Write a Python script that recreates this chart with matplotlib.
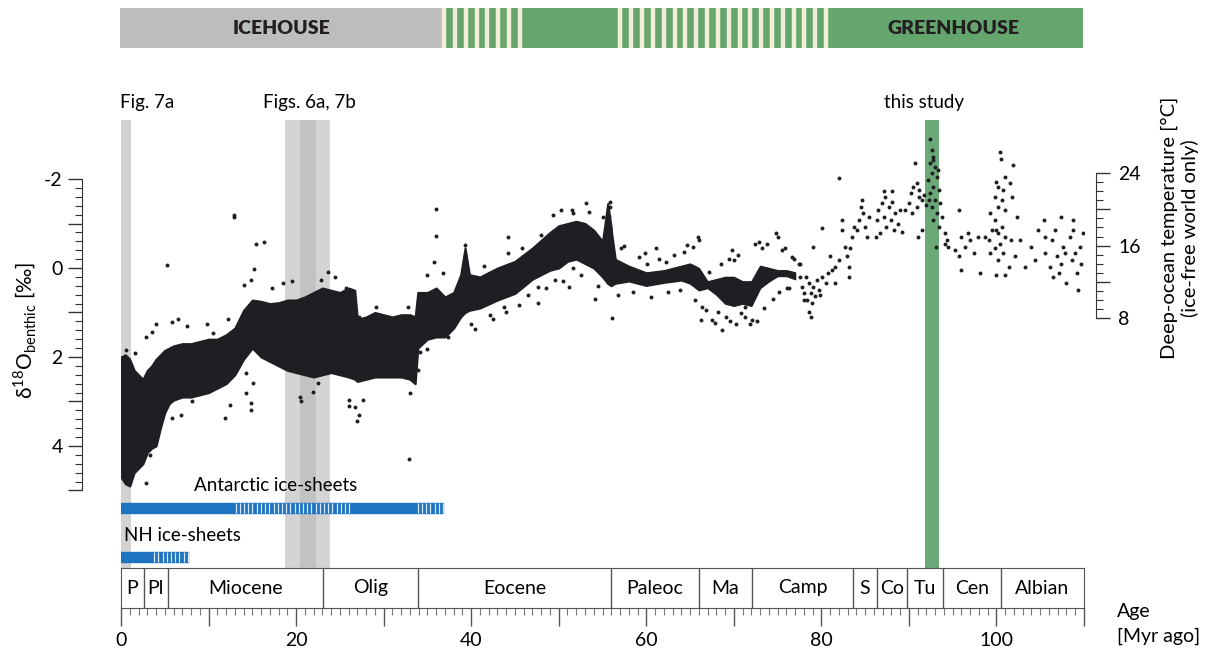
import numpy as np
import matplotlib
matplotlib.use("Agg")
import matplotlib.pyplot as plt
from matplotlib.ticker import MultipleLocator, FuncFormatter

plt.rcParams['font.family'] = ['Lato', 'DejaVu Sans']
plt.rcParams['mathtext.fontset'] = 'custom'
plt.rcParams['mathtext.rm'] = 'Lato'

# dense part of the benthic d18O record: age [Myr], light edge, heavy edge [permil]
core_age = [0, 0.5, 1.0, 1.5, 2.0, 2.5, 3.0, 3.5, 4.0, 4.5, 5.0, 5.5, 6, 7, 8, 9, 10, 11, 12, 13,
            14, 15, 16, 17, 18, 19, 20, 21, 22, 23, 24, 25, 26, 26.7, 27, 28, 29, 30, 31, 32, 33,
            33.6, 33.9, 35, 36, 37, 38, 38.8, 39.3, 39.8, 41, 43, 45, 47, 49, 50, 51, 52, 53, 54,
            55, 55.6, 56]
core_top = [2.0, 1.95, 2.05, 2.3, 2.4, 2.5, 2.3, 2.2, 2.05, 1.95, 1.85, 1.8, 1.75, 1.7, 1.7, 1.65,
            1.6, 1.6, 1.5, 1.35, 0.95, 0.72, 0.75, 0.8, 0.78, 0.72, 0.72, 0.65, 0.55, 0.45, 0.5, 0.55,
            0.45, 0.5, 1.15, 1.1, 1.0, 1.05, 1.1, 1.05, 1.05, 1.1, 0.55, 0.55, 0.45, 0.65, 0.55, 0.15,
            -0.45, 0.15, 0.2, 0.0, -0.15, -0.45, -0.8, -0.95, -1.0, -1.05, -1.0, -0.85, -0.6, -1.45,
            -0.9]
core_bot = [4.7, 4.85, 4.9, 4.6, 4.5, 4.4, 4.15, 4.05, 4.0, 3.6, 3.25, 3.05, 2.97, 2.9, 2.9, 2.85,
            2.8, 2.7, 2.6, 2.4, 2.05, 1.8, 2.0, 2.1, 2.2, 2.3, 2.35, 2.4, 2.45, 2.4, 2.35, 2.4, 2.45,
            2.5, 2.55, 2.5, 2.45, 2.45, 2.45, 2.45, 2.5, 2.6, 1.8, 1.6, 1.55, 1.55, 1.35, 1.1, 1.0,
            0.95, 0.9, 0.72, 0.57, 0.25, 0.05, 0.0, -0.15, -0.2, -0.1, 0.0, 0.2, 0.35, 0.4]

# looser core, Paleocene to Campanian
loose_age = [56, 56.5, 58, 60, 62, 64, 65, 66, 67, 68, 69, 70, 71, 72, 73, 74, 75, 76, 77]
loose_top = [-0.9, -0.2, -0.05, 0.1, 0.05, -0.05, -0.1, 0.0, 0.3, 0.25, 0.2, 0.2, 0.3, 0.3, -0.05,
             0.0, 0.05, 0.05, 0.1]
loose_bot = [0.4, 0.35, 0.3, 0.4, 0.33, 0.28, 0.35, 0.5, 0.45, 0.6, 0.8, 0.85, 0.8, 0.85, 0.45, 0.3,
             0.18, 0.18, 0.25]

# scattered points, Cenozoic
ceno_age = [12.9, 12.95, 15.4, 16.3, 5.2, 15.2, 14.9, 14.1, 18.5, 23.6, 22.9, 12.2, 6.5, 5.8, 4.0,
            2.9, 3.5, 9.8, 11.9, 5.8, 6.9, 2.7, 3.3, 2.9, 14.9, 14.9, 12.4, 14.3, 15.1, 14.3, 20.4,
            20.6, 21.9, 22.5, 8.1, 27.0, 32.9, 26.7, 26.0, 36.0, 36.0, 35.8, 35.0, 36.8, 39.3, 39.3,
            44.2, 44.2, 40.4, 42.1, 43.8, 45.5, 47.6, 47.6, 49.6, 50.3, 49.3, 27.2, 26.1, 27.6, 33.0,
            33.9, 34.1, 34.9, 37.3, 36.4, 29.1, 32.8, 27.2, 25.7, 40.0, 41.5, 42.5, 44.0, 45.8, 46.5,
            48.0, 48.5, 50.5, 51.5, 52.5, 53.5, 54.5, 55.0, 54.2, 55.8, 55.8, 55.7, 56.1, 53.1, 51.6,
            51.2, 51.6, 19.5, 24.5, 17.2, 10.5, 7.5, 1.6, 0.6]
ceno_d18o = [-1.15, -1.2, -0.55, -0.59, -0.07, 0.03, 0.27, 0.38, 0.34, 0.08, 0.27, 1.15, 1.15, 1.21,
             1.26, 1.54, 1.43, 1.26, 3.38, 3.38, 3.3, 4.2, 4.2, 4.84, 3.04, 3.19, 3.08, 2.82, 2.59,
             2.37, 2.89, 3.0, 2.78, 2.59, 3.0, 3.44, 4.3, 3.12, 2.97, -1.32, -0.72, -0.14, 0.16, 0.12,
             -0.52, -0.26, -0.7, -0.33, 1.36, 1.06, 0.87, 0.83, 0.79, 0.42, 0.27, -1.3, -1.19, 3.3,
             3.11, 2.97, 2.82, 2.29, 1.88, 1.81, 1.54, 1.47, 0.87, 0.87, 1.09, 0.46, 1.25, -0.05, 1.15,
             1.0, -0.45, 0.6, -0.75, 0.45, 0.3, -1.3, 0.15, -1.25, 0.4, -1.15, 0.7, -1.49, -1.38,
             -1.15, 1.13, -1.45, -1.23, 0.42, 0.01, 0.3, 0.2, 0.45, 1.45, 1.3, 1.9, 1.85]

# scattered points, Paleocene to Campanian
kt_age = [57.1, 59.9, 61.1, 60.1, 62.2, 64.7, 65.3, 65.95, 66.0, 66.4, 66.2, 65.6, 67.5, 67.9, 68.7,
          69.1, 69.8, 70.0, 71.3, 72.1, 72.9, 73.2, 74.8, 75.0, 75.5, 76.7, 77.4, 76.1, 78.0, 71.3,
          70.8, 56.8, 57.5, 58.5, 59.2, 60.5, 61.5, 62.5, 63.2, 63.8, 64.3, 66.8, 67.2, 68.2, 68.5,
          69.5, 69.6, 70.5, 70.2, 71.8, 72.4, 72.6, 73.5, 73.8, 74.5, 75.2, 75.8, 76.3, 76.9]
kt_d18o = [-0.44, -0.33, -0.44, -0.1, -0.14, -0.52, -0.48, -0.7, -0.63, 0.87, 1.17, 0.72, 1.17, 1.24,
           1.39, 1.09, -0.4, -0.18, 1.09, 1.17, -0.59, -0.44, -0.78, -0.7, -0.4, -0.25, -0.1, 0.46,
           0.72, 0.87, 1.02, 0.6, -0.5, 0.55, -0.25, 0.65, -0.2, 0.55, -0.3, 0.5, -0.35, 0.95, 0.1,
           1.0, -0.1, -0.2, 1.2, -0.3, 1.25, 1.25, -0.55, 1.2, 0.9, -0.55, 0.7, 0.55, -0.45, 0.45,
           -0.2]

# scattered points, mid-Cretaceous
cret_age = [77.6, 78.2, 77.8, 78.6, 78.8, 78.4, 79.1, 79.5, 79.7, 80.1, 80.5, 80.8, 81.2, 81.6, 78.9,
            78.6, 78.8, 78.0, 79.3, 79.9, 77.6, 79.1, 80.1, 81.0, 81.6, 82.0, 82.4, 82.0, 82.7, 83.1,
            83.1, 82.9, 83.5, 83.7, 84.3, 84.5, 84.6, 84.8, 84.1, 85.0, 85.4, 85.2, 82.4, 83.3,
            86.4, 86.5, 86.9, 87.1, 87.3, 87.4, 87.7, 87.9, 88.1, 88.3, 88.4, 88.8, 86.7, 86.2, 89.0,
            89.2, 87.1, 88.1,
            89.6, 90.0, 90.2, 90.5, 90.7, 90.9, 91.1, 91.2, 91.5, 91.7, 91.9, 90.3, 90.9, 91.5, 91.0,
            92.4, 92.6, 92.8, 92.4, 93.0, 92.6, 92.2, 93.2, 92.8, 92.4, 93.4, 93.0, 92.6, 93.6, 93.2,
            92.8, 93.4, 93.8, 93.1, 92.3, 93.3, 92.7,
            94.1, 94.3, 94.5, 94.1, 95.7, 95.7, 95.9, 96.0, 96.4, 96.8, 97.0, 97.9, 98.1, 97.4, 95.3,
            100.4, 100.5, 101.9, 101.0, 100.0, 100.2, 100.8, 101.6, 99.8, 100.6, 101.8, 100.2, 101.0,
            99.3, 102.3, 99.8, 100.6, 99.5, 100.2, 100.0, 101.0, 99.1, 100.4, 101.7, 99.8, 100.8,
            99.3, 102.1, 100.2, 101.4, 100.0, 101.0, 98.7, 102.7, 103.3,
            104.0, 104.4, 104.8, 105.4, 105.5, 105.5, 106.1, 106.3, 106.7, 106.9, 107.1, 107.4, 107.6,
            107.8, 108.0, 108.4, 108.6, 108.8, 109.0, 109.2, 109.3, 109.5, 109.7, 109.9, 108.8, 107.4,
            106.5]
cret_d18o = [-0.1, 0.2, 0.42, 0.34, 0.57, 0.72, 0.42, 0.27, 0.5, 0.2, 0.34, 0.12, 0.05, 0.34, 0.79,
             0.98, 1.09, 0.57, 0.64, 0.61, 0.2, -0.48, -0.89, -0.26, -0.03, -0.18, -1.08, -2.02,
             -0.48, -0.03, 0.2, -0.26, -0.7, -0.93, -1.08, -1.38, -1.53, -1.23, -0.85, -0.93, -1.15,
             -0.7, -0.85, -0.44,
             -1.08, -1.3, -1.45, -1.15, -1.6, -0.93, -1.38, -1.08, -1.49, -0.85, -1.23, -1.0, -0.78,
             -0.7, -1.3, -0.82, -1.72, -1.72,
             -1.3, -1.45, -1.68, -1.83, -2.35, -1.9, -1.6, -1.75, -1.53, -1.64, -1.42, -1.23, -1.38,
             -0.85, -0.7,
             -2.91, -2.65, -2.5, -2.35, -2.28, -2.13, -1.98, -2.05, -1.83, -1.68, -1.75, -1.53, -1.38,
             -1.45, -1.23, -1.08, -0.93, -1.15, -0.48, -1.53, -2.2, -2.43,
             -0.78, -0.63, -0.48, -0.55, -1.3, -0.26, 0.05, -0.7, -0.48, -0.78, -0.63, -0.7, 0.12,
             -0.33, -0.4,
             -2.61, -2.44, -2.31, -2.05, -1.94, -1.83, -1.75, -1.9, -1.6, -1.53, -1.6, -1.38, -1.3,
             -1.23, -1.15, -1.08, -0.93, -0.85, -0.78, -0.85, -0.7, -0.63, -0.55, -0.63, -0.44, -0.33,
             -0.33, -0.26, -0.18, -0.03, 0.16, 0.16, -0.7, -0.63, -0.03,
             -0.48, -0.18, -0.85, -1.08, -0.7, -0.33, -0.03, -0.63, -0.85, -0.26, 0.12, -1.15, -0.48,
             -0.33, 0.34, -0.7, -0.18, -0.85, -0.33, 0.12, 0.5, -0.48, -0.1, -0.78, -1.08, -0.1, 0.2]

# geologic timescale
stage_bounds = [0, 2.58, 5.33, 23.03, 33.9, 56.0, 66.0, 72.1, 83.6, 86.3, 89.8, 93.9, 100.5, 110]
stage_names = ['P', 'Pl', 'Miocene', 'Olig', 'Eocene', 'Paleoc', 'Ma', 'Camp', 'S', 'Co', 'Tu',
               'Cen', 'Albian']

# climate state bar
clim_start = [0, 36.8, 46.4, 56.9, 81.6]
clim_end = [36.8, 46.4, 56.9, 81.6, 109.8]
clim_kind = ['ice', 'mixed', 'green', 'mixed', 'green']

# ice-sheet bars, (start, end) in Myr: full / partial glaciation
ant_full = [(0, 12.8), (26.1, 33.6)]
ant_part = [(12.8, 26.1), (33.6, 36.8)]
nh_full = [(0, 3.5)]
nh_part = [(3.5, 7.7)]

# highlighted intervals
fig7a_span = (0, 1.15)
fig6a_span = (18.7, 23.9)
fig6a_inner = (20.4, 22.3)
study_span = (91.8, 93.4)


def d18o_to_temp(d):
    return 13.54 - 4.9 * np.asarray(d)


W, H = 1215, 653
PX = 72 / 100  # points per pixel at dpi 100
fig = plt.figure(figsize=(W / 100, H / 100), dpi=100)

x0, x1 = 121 / W, 1084 / W
ax = fig.add_axes([x0, 1 - 568 / H, x1 - x0, 448 / H])
ax_ts = fig.add_axes([x0, 1 - 608 / H, x1 - x0, 40 / H])
ax_top = fig.add_axes([120 / W, 1 - 48 / H, (1083 - 120) / W, 40 / H])

ylo, yhi = 6.742, -3.326
ax.set_xlim(0, 110)
ax.set_ylim(ylo, yhi)

# highlight bands
ax.axvspan(*fig7a_span, color='#d2d2d2', lw=0, zorder=0)
ax.axvspan(*fig6a_span, color='#d4d4d4', lw=0, zorder=0)
ax.axvspan(*fig6a_inner, color='#c2c2c2', lw=0, zorder=0)
ax.axvspan(*study_span, color='#6aa877', lw=0, zorder=1)

dot = '#1d1f22'
ax.fill_between(core_age, core_top, core_bot, color=dot, lw=1.5, zorder=2)
ax.fill_between(loose_age, loose_top, loose_bot, color=dot, lw=1.0, zorder=2)
for a, d in [(ceno_age, ceno_d18o), (kt_age, kt_d18o), (cret_age, cret_d18o)]:
    ax.scatter(a, d, s=8, color=dot, lw=0, zorder=3)

# ice sheets
blue = '#1e74c0'
gap = '#dbe9f7'


def ice_bar(full, part, y0, h):
    spans = [(s, e - s) for s, e in full + part]
    ax.broken_barh(spans, (y0, h), color=blue, zorder=2)
    for s, e in part:
        ax.vlines(np.arange(s + 0.3, e, 0.48), y0, y0 + h, color=gap, lw=0.9, zorder=3)


ice_bar(ant_full, ant_part, 5.28, 0.23)
ice_bar(nh_full, nh_part, 6.38, 0.23)
ax.text(17.7, 4.88, 'Antarctic ice-sheets', ha='center', va='center', fontsize=13.5)
ax.text(0.3, 6.02, 'NH ice-sheets', ha='left', va='center', fontsize=13.5)

# band labels
ax.text(3.0, -3.73, 'Fig. 7a', ha='center', va='center', fontsize=13.5, clip_on=False)
ax.text(21.5, -3.73, 'Figs. 6a, 7b', ha='center', va='center', fontsize=13.5, clip_on=False)
ax.text(91.7, -3.73, 'this study', ha='center', va='center', fontsize=13.5, clip_on=False)

# left axis
for sp in ['top', 'bottom', 'right']:
    ax.spines[sp].set_visible(False)
ax.spines['left'].set_position(('outward', 39 * PX))
ax.spines['left'].set_bounds(-2, 5)
ax.spines['left'].set_color('#333333')
ax.set_xticks([])
ax.set_yticks(np.arange(-2, 5.01, 1))
ax.set_yticks(np.arange(-2, 5.01, 0.2), minor=True)
ax.yaxis.set_major_formatter(FuncFormatter(lambda v, p: f'{v:.0f}' if round(v) % 2 == 0 and v < 5 else ''))
ax.tick_params(axis='y', which='major', length=10, width=1, color='#333333', labelsize=14, pad=4)
ax.tick_params(axis='y', which='minor', length=5, width=0.8, color='#333333')

# right axis (temperature)
ax_t = ax.twinx()
ax_t.set_ylim(d18o_to_temp(ylo), d18o_to_temp(yhi))
for sp in ['top', 'bottom', 'left']:
    ax_t.spines[sp].set_visible(False)
ax_t.spines['right'].set_position(('outward', 12 * PX))
ax_t.spines['right'].set_bounds(8, 24)
ax_t.spines['right'].set_color('#333333')
ax_t.set_yticks(np.arange(8, 24.1, 4))
ax_t.set_yticks(np.arange(8, 24.1, 1), minor=True)
ax_t.yaxis.set_major_formatter(FuncFormatter(lambda v, p: f'{v:.0f}' if round(v) % 8 == 0 else ''))
ax_t.tick_params(axis='y', which='major', length=10, width=1, color='#333333', labelsize=14, pad=6)
ax_t.tick_params(axis='y', which='minor', length=5, width=0.8, color='#333333')

fig.text(25 / W, 1 - 330 / H, r'δ$^{\mathrm{18}}$O$_{\mathrm{benthic}}$ [‰]', rotation=90,
         ha='center', va='center', fontsize=15)
fig.text(1180 / W, 1 - 228 / H, 'Deep-ocean temperature [°C]\n(ice-free world only)',
         rotation=90, ha='center', va='center', fontsize=14.5, multialignment='center')

# timescale strip
ax_ts.set_xlim(0, 110)
ax_ts.set_ylim(0, 1)
for b in stage_bounds[1:-1]:
    ax_ts.axvline(b, color='#555555', lw=1)
for i, name in enumerate(stage_names):
    ax_ts.text((stage_bounds[i] + stage_bounds[i + 1]) / 2, 0.5, name, ha='center', va='center',
               fontsize=14)
for sp in ax_ts.spines.values():
    sp.set_color('#555555')
ax_ts.set_yticks([])
ax_ts.xaxis.set_major_locator(MultipleLocator(10))
ax_ts.xaxis.set_minor_locator(MultipleLocator(1))
ax_ts.xaxis.set_major_formatter(FuncFormatter(lambda v, p: f'{v:.0f}' if round(v) % 20 == 0 and v < 110 else ''))
ax_ts.tick_params(axis='x', which='major', length=13, width=1, color='#555555', labelsize=14, pad=4)
ax_ts.tick_params(axis='x', which='minor', length=5, width=0.8, color='#777777')
fig.text(1117 / W, 1 - 612 / H, 'Age', ha='left', va='center', fontsize=14)
fig.text(1117 / W, 1 - 636 / H, '[Myr ago]', ha='left', va='center', fontsize=14)

# icehouse / greenhouse bar
ax_top.set_xlim(0, 109.8)
ax_top.set_ylim(0, 1)
ax_top.axis('off')
green = '#65a56e'
for s, e, k in zip(clim_start, clim_end, clim_kind):
    ax_top.axvspan(s, e, color='#bdbdbd' if k == 'ice' else green, lw=0)
    if k == 'mixed':
        ax_top.vlines(np.arange(s + 0.15, e, 1.235), 0, 1, color='#f4edd6', lw=3.2)
ax_top.text(18.4, 0.5, 'ICEHOUSE', ha='center', va='center', fontsize=14, fontweight='heavy',
            color='#231f20')
ax_top.text(95.0, 0.5, 'GREENHOUSE', ha='center', va='center', fontsize=14, fontweight='heavy',
            color='#231f20')

fig.savefig('out.png', dpi=100)
